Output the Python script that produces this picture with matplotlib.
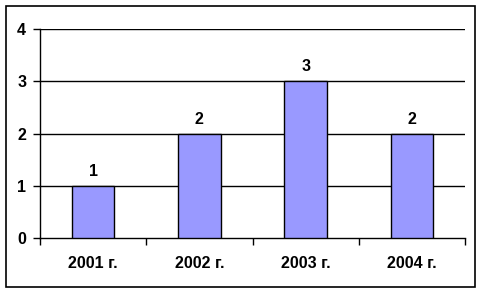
import matplotlib
matplotlib.use("Agg")
import matplotlib.pyplot as plt
from matplotlib.patches import Rectangle

categories = ["2001 г.", "2002 г.", "2003 г.", "2004 г."]
values = [1, 2, 3, 2]
yticks = [0, 1, 2, 3, 4]

plt.rcParams['font.family'] = ['Liberation Sans', 'DejaVu Sans']

W, H = 480, 292
fig = plt.figure(figsize=(W/100, H/100), dpi=100)
fig.patch.set_facecolor('white')

# outer frame
fig.patches.append(Rectangle((5.5/W, 1-286.5/H), 469/W, 281/H, transform=fig.transFigure,
                             fill=False, edgecolor='black', linewidth=1.2))

FS = 11.5
left, right, top, bottom = 40, 465, 29, 238
ax = fig.add_axes([left/W, 1-bottom/H, (right-left)/W, (bottom-top)/H])
x = list(range(len(categories)))
bars = ax.bar(x, values, width=0.4, color='#9999FF', edgecolor='black', linewidth=1, zorder=3)
ax.set_xlim(-0.5, len(categories)-0.5)
ax.set_ylim(0, 4)
ax.set_yticks(yticks)
ax.set_yticklabels([str(v) for v in yticks], fontsize=FS, fontweight='bold')
for v in yticks[1:]:
    ax.axhline(v, color='black', linewidth=1, zorder=1)
ax.set_xticks([i+0.5 for i in x[:-1]] + [-0.5, len(categories)-0.5], minor=False)
ax.set_xticklabels([])
ax.set_xticks(x, minor=True)
ax.set_xticklabels(categories, minor=True, fontsize=FS, fontweight='bold')
ax.tick_params(axis='x', which='minor', length=0, pad=13)
ax.tick_params(axis='x', which='major', length=5, width=1, direction='out')
ax.tick_params(axis='y', length=5, width=1, direction='out', pad=5)
for s in ['top', 'right']:
    ax.spines[s].set_visible(False)
ax.spines['left'].set_linewidth(1)
ax.spines['bottom'].set_linewidth(1)
for xi, v in zip(x, values):
    ax.annotate(str(v), (xi, v), xytext=(0, 5), textcoords='offset points',
                ha='center', va='bottom', fontsize=FS, fontweight='bold')

fig.savefig('out.png', dpi=100)
